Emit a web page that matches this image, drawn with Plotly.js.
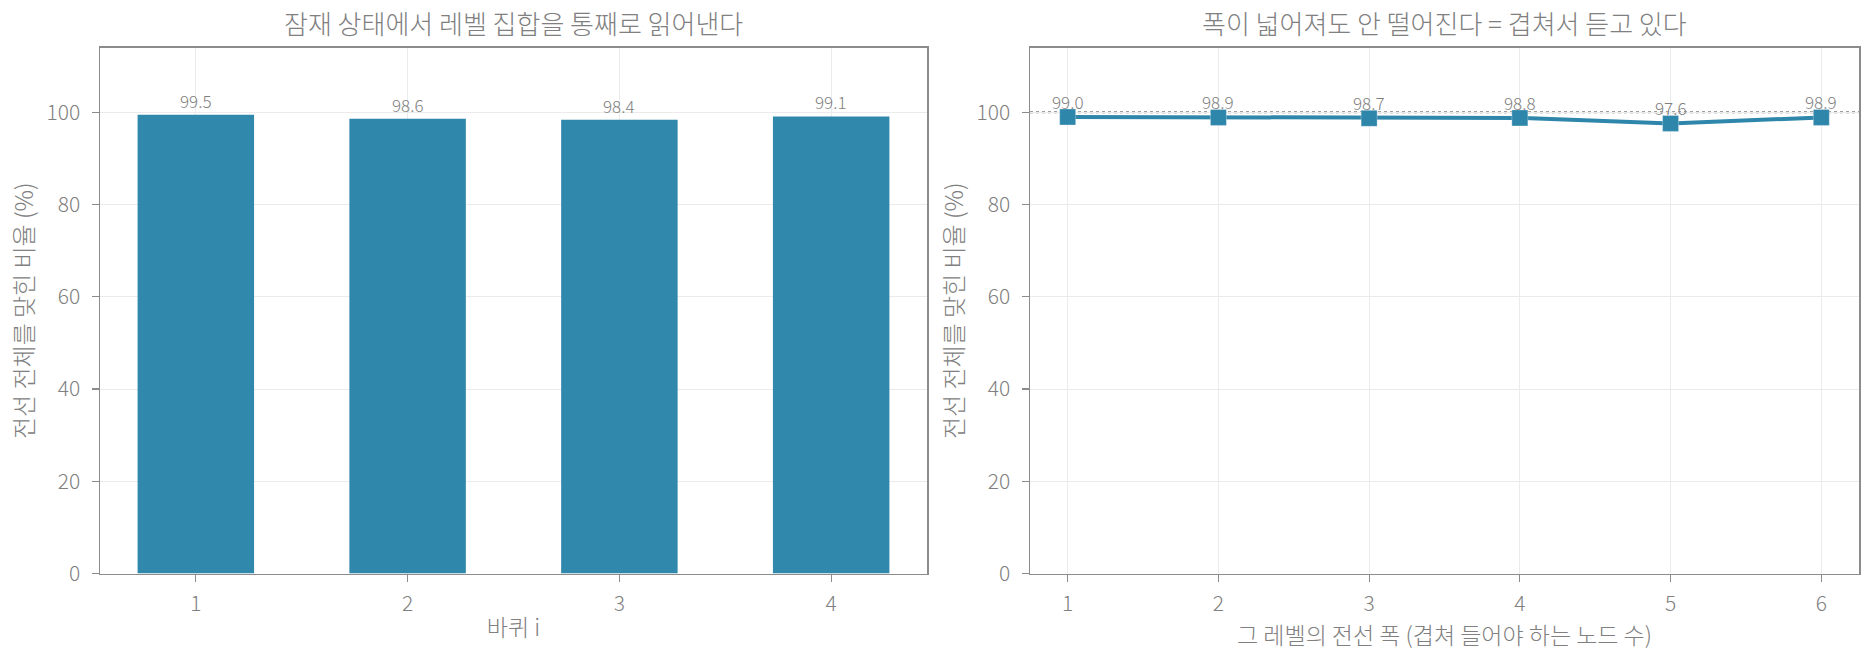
<!DOCTYPE html>
<html>
<head>
<meta charset="utf-8">
<script src="https://cdn.plot.ly/plotly-3.0.1.min.js"></script>
<style>
	html, body { margin: 0; padding: 0; background: #fff; }
	#chart { width: 1874px; height: 658px; }
</style>
</head>
<body>
<div id="chart"></div>
<script>
// data
const rounds = [1, 2, 3, 4];
const roundAcc = [99.5, 98.6, 98.4, 99.1];
const widths = [1, 2, 3, 4, 5, 6];
const widthAcc = [99.0, 98.9, 98.7, 98.8, 97.6, 98.9];
const yTicks = [0, 20, 40, 60, 80, 100];

const leftTitle = '잠재 상태에서 레벨 집합을 통째로 읽어낸다';
const rightTitle = '폭이 넓어져도 안 떨어진다 = 겹쳐서 듣고 있다';
const leftXLabel = '바퀴 i';
const rightXLabel = '그 레벨의 전선 폭 (겹쳐 들어야 하는 노드 수)';
const yLabel = '전선 전체를 맞힌 비율 (%)';

const FONT = '"Noto Sans CJK KR", "Noto Sans", sans-serif';
const GREY = '#808080';
const BLUE = '#2E86AB';
const LIGHT = 300;

const axisBase = {
	showline: true,
	mirror: true,
	linecolor: '#8c8c8c',
	linewidth: 1.5,
	ticks: 'outside',
	ticklen: 7,
	tickwidth: 1.2,
	tickcolor: '#8c8c8c',
	showgrid: true,
	gridcolor: '#ebebeb',
	gridwidth: 1,
	zeroline: false,
	tickfont: { family: FONT, size: 21, color: GREY, weight: LIGHT },
	automargin: false,
};

const yAxis = (anchor) => ({
	...axisBase,
	anchor: anchor,
	domain: [0.1283, 0.9274],
	range: [0, 114],
	tickvals: yTicks,
	ticklabelstandoff: 7,
	title: { text: yLabel, font: { family: FONT, size: 24, color: GREY, weight: LIGHT }, standoff: 6 },
});

const data = [
	{
		type: 'bar',
		x: rounds,
		y: roundAcc,
		width: 0.55,
		marker: { color: '#2A84AA', line: { width: 0 } },
		opacity: 0.97,
		xaxis: 'x',
		yaxis: 'y',
		showlegend: false,
	},
	{
		type: 'scatter',
		mode: 'lines+markers',
		x: widths,
		y: widthAcc,
		line: { color: BLUE, width: 4 },
		marker: { symbol: 'square', size: 16, color: BLUE, line: { color: 'rgba(255,255,255,0.6)', width: 0.5 } },
		xaxis: 'x2',
		yaxis: 'y2',
		showlegend: false,
	},
];

const valueNote = (xs, xref, yref, shift) => (v, i) => ({
	x: xs[i],
	y: v,
	xref: xref,
	yref: yref,
	text: v.toFixed(1),
	showarrow: false,
	yanchor: 'bottom',
	yshift: shift,
	font: { family: FONT, size: 17, color: GREY, weight: LIGHT },
});

const titleNote = (text, x) => ({
	text: text,
	x: x,
	y: 1 - 22 / 658,
	xref: 'paper',
	yref: 'paper',
	xanchor: 'center',
	yanchor: 'middle',
	showarrow: false,
	font: { family: FONT, size: 26, color: GREY, weight: LIGHT },
});

const layout = {
	width: 1874,
	height: 658,
	margin: { l: 0, r: 0, t: 0, b: 0 },
	paper_bgcolor: '#ffffff',
	plot_bgcolor: '#ffffff',
	font: { family: FONT, color: GREY },
	xaxis: {
		...axisBase,
		anchor: 'y',
		domain: [100 / 1874, 927 / 1874],
		range: [0.5475, 4.4525],
		tickvals: rounds,
		ticklabelstandoff: 4,
		title: { text: leftXLabel, font: { family: FONT, size: 23, color: GREY, weight: LIGHT }, standoff: 3 },
	},
	yaxis: yAxis('x'),
	xaxis2: {
		...axisBase,
		anchor: 'y2',
		domain: [1030 / 1874, 1859 / 1874],
		range: [0.75, 6.25],
		tickvals: widths,
		ticklabelstandoff: 4,
		title: { text: rightXLabel, font: { family: FONT, size: 23, color: GREY, weight: LIGHT }, standoff: 3 },
	},
	yaxis2: yAxis('x2'),
	shapes: [
		{
			type: 'line',
			xref: 'x2 domain',
			yref: 'y2',
			x0: 0, x1: 1,
			y0: 100, y1: 100,
			layer: 'below',
			line: { color: '#808080', width: 2, dash: 'dot' },
		},
	],
	annotations: [
		titleNote(leftTitle, (100 + 927) / 2 / 1874),
		titleNote(rightTitle, (1030 + 1859) / 2 / 1874),
		...roundAcc.map(valueNote(rounds, 'x', 'y', 0)),
		...widthAcc.map(valueNote(widths, 'x2', 'y2', 1)),
	],
};

Plotly.newPlot('chart', data, layout, { displayModeBar: false, staticPlot: true });
</script>
</body>
</html>
